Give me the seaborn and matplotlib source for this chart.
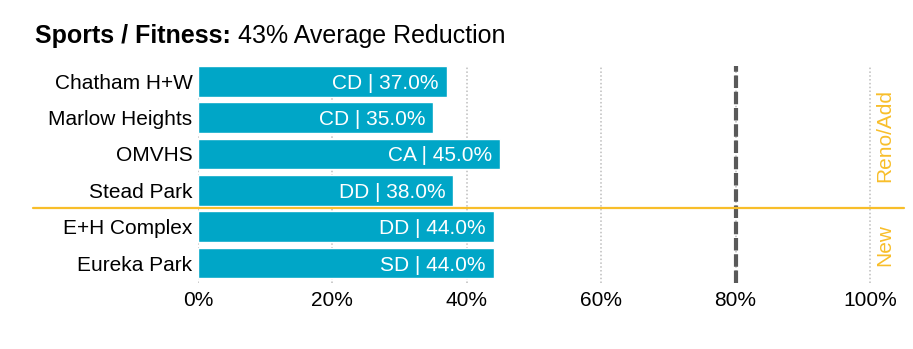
import matplotlib
matplotlib.use("Agg")
import matplotlib.pyplot as plt
import seaborn as sns
import pandas as pd

# Facilities and their reduction values
facilities = ["Chatham H+W", "Marlow Heights", "OMVHS", "Stead Park", "E+H Complex", "Eureka Park"]
codes = ["CD", "CD", "CA", "DD", "DD", "SD"]
reductions = [37.0, 35.0, 45.0, 38.0, 44.0, 44.0]
x_ticks = [0, 20, 40, 60, 80, 100]
x_tick_labels = ["0%", "20%", "40%", "60%", "80%", "100%"]
target = 80
group_labels = ["Reno/Add", "New"]
title_bold = "Sports / Fitness:"
title_rest = " 43% Average Reduction"

BAR = "#00A6C7"
GOLD = "#F8BE2A"

sns.set_theme(style="white")
plt.rcParams["font.family"] = ["Liberation Sans", "DejaVu Sans"]
plt.rcParams["text.color"] = "black"
plt.rcParams["xtick.color"] = "black"
plt.rcParams["ytick.color"] = "black"

df = pd.DataFrame({"facility": facilities, "code": codes, "value": reductions})

fig = plt.figure(figsize=(9.13, 3.49), dpi=100)
W, H = 913, 349
x0, px_per = 198, 6.72
top, bottom = 66, 283
xmax = 105
ax = fig.add_axes([x0 / W, 1 - bottom / H, xmax * px_per / W, (bottom - top) / H])

sns.barplot(data=df, y="facility", x="value", orient="h", color=BAR,
            saturation=1, width=0.84, ax=ax, zorder=3)

ax.set_xlim(0, xmax)
ax.set_ylim(5.55, -0.42)
for t in x_ticks:
    ax.axvline(t, color="#BDBDBD", lw=1.1, ls=(0, (1, 1.5)), zorder=1)
ax.axvline(target, color="#595959", lw=3.0, ls=(0, (3.0, 0.9)), zorder=4)

ax.set_xticks(x_ticks)
ax.set_xticklabels(x_tick_labels, fontsize=15)
ax.tick_params(axis="x", length=0, pad=6)
ax.tick_params(axis="y", length=0, pad=4, labelsize=15)
ax.set_xlabel("")
ax.set_ylabel("")
for s in ax.spines.values():
    s.set_visible(False)

# Value labels inside bars
for i, (c, v) in enumerate(zip(codes, reductions)):
    ax.text(v - 1.2, i, f"{c} | {v:.1f}%", ha="right", va="center_baseline",
            color="white", fontsize=15, zorder=5)

# Divider between renovation and new facilities
ax.plot([-24.5, 105], [3.5, 3.5], color=GOLD, lw=1.6, clip_on=False,
        transform=ax.transData, zorder=6)
ax.text(102.2, 1.5, group_labels[0], rotation=90, ha="center", va="center",
        color=GOLD, fontsize=15)
ax.text(102.2, 4.5, group_labels[1], rotation=90, ha="center", va="center",
        color=GOLD, fontsize=15)

# Title in two weights
t1 = fig.text(35 / W, 1 - 36 / H, title_bold, fontsize=18, fontweight="bold",
              ha="left", va="center", color="black")
fig.canvas.draw()
bb = t1.get_window_extent(fig.canvas.get_renderer())
fig.text(bb.x1 / W, 1 - 36 / H, title_rest, fontsize=18, ha="left",
         va="center", color="black")

fig.savefig("out.png", dpi=100)
